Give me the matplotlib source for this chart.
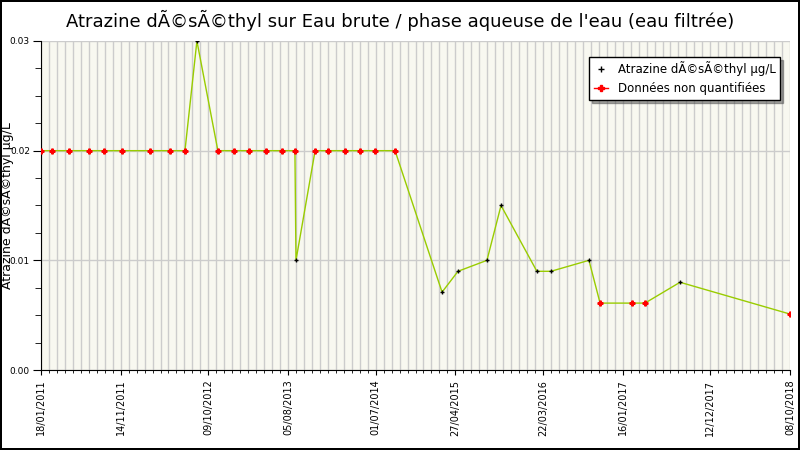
import matplotlib
matplotlib.use("Agg")
import matplotlib.pyplot as plt
import matplotlib.dates as mdates
import numpy as np
import pandas as pd

dates = ["2011-01-18","2011-02-28","2011-05-03","2011-07-18","2011-09-12","2011-11-19",
         "2012-03-03","2012-05-18","2012-07-13","2012-08-27","2012-11-14","2013-01-14",
         "2013-03-11","2013-05-14","2013-07-13","2013-08-31","2013-09-04","2013-11-15",
         "2014-01-03","2014-03-08","2014-05-03","2014-06-29","2014-09-12","2015-03-08",
         "2015-05-07","2015-08-24","2015-10-16","2016-02-28","2016-04-21","2016-09-11",
         "2016-10-23","2017-02-20","2017-04-10","2017-08-20","2018-10-08"]
values = [0.02,0.02,0.02,0.02,0.02,0.02,0.02,0.02,0.02,0.03,0.02,0.02,0.02,0.02,0.02,0.02,
          0.01,0.02,0.02,0.02,0.02,0.02,0.02,0.0071,0.009,0.01,0.015,0.009,0.009,0.01,
          0.0061,0.0061,0.0061,0.008,0.0051]
nonquant = [1,1,1,1,1,1,1,1,1,0,1,1,1,1,1,1,0,1,1,1,1,1,1,0,0,0,0,0,0,0,1,1,1,0,1]
tick_labels = ["18/01/2011","14/11/2011","09/10/2012","05/08/2013","01/07/2014",
               "27/04/2015","22/03/2016","16/01/2017","12/12/2017","08/10/2018"]

d = pd.to_datetime(dates)
v = np.array(values)
nq = np.array(nonquant, bool)

fig = plt.figure(figsize=(8, 4.5), dpi=100)
fig.patch.set_edgecolor("black"); fig.patch.set_linewidth(1.5)
ax = fig.add_axes([41/800, 80/450, 749/800, 329/450])
ax.set_facecolor("#f8f8f0")

tk = pd.to_datetime(tick_labels, dayfirst=True)
minor = pd.date_range(tk[0], tk[-1], freq="30D")
ax.set_xticks(mdates.date2num(minor), minor=True)
ax.set_xticks(mdates.date2num(tk))
ax.set_xticklabels(tick_labels, rotation=90, fontsize=7)
ax.grid(True, which="both", axis="x", color="#cccccc", lw=1)
ax.set_yticks([0, 0.01, 0.02, 0.03])
ax.set_yticklabels(["0.00", "0.01", "0.02", "0.03"], fontsize=6.5)
ax.set_yticks(np.arange(0, 0.0301, 0.0025), minor=True)
ax.tick_params(axis="y", which="major", length=6, pad=2)
ax.tick_params(axis="y", which="minor", length=4)
ax.grid(True, which="major", axis="y", color="#cccccc", lw=1)
ax.set_axisbelow(True)
ax.set_xlim(mdates.date2num(tk[0]), mdates.date2num(tk[-1]))
ax.set_ylim(0, 0.03)
for s in ["top", "right"]:
    ax.spines[s].set_visible(False)

ax.plot(d, v, color="#99cc00", lw=1, zorder=2)
ax.plot(d[~nq], v[~nq], "+", color="black", ms=3.5, mew=1, ls="none", zorder=3)
ax.plot(d[nq], v[nq], "P", color="red", ms=3.5, ls="none", zorder=3)
h1 = plt.Line2D([], [], color="#99cc00", lw=0, marker="+", mec="black", ms=4)
h2 = plt.Line2D([], [], color="red", lw=1, marker="P", ms=4)
leg = ax.legend([h1, h2], ["Atrazine dÃ©sÃ©thyl µg/L", "Données non quantifiées"],
                loc="upper right", bbox_to_anchor=(0.995, 0.97), fontsize=8.5,
                fancybox=False, shadow=True, edgecolor="black", framealpha=1,
                handlelength=1.2)
ax.set_ylabel("Atrazine dÃ©sÃ©thyl µg/L", fontsize=9)
ax.yaxis.set_label_coords(-27/749, 0.5)
fig.text(0.5, 0.955, "Atrazine dÃ©sÃ©thyl sur Eau brute / phase aqueuse de l'eau (eau filtrée)",
         ha="center", va="center", fontsize=13)
fig.savefig("out.png", dpi=100, edgecolor=fig.get_edgecolor())
